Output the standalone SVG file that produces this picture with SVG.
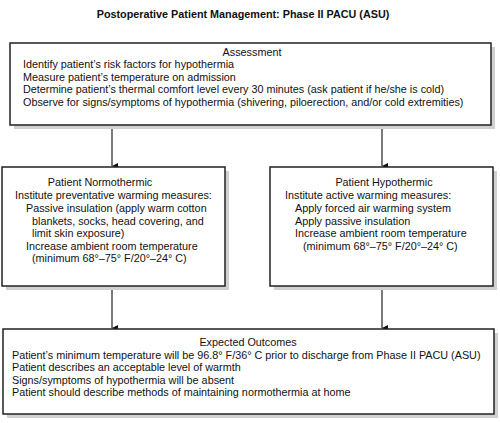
<svg xmlns="http://www.w3.org/2000/svg" width="500" height="423" viewBox="0 0 500 423">
<defs>
<style>
text{font-family:"Liberation Sans",Arial,sans-serif;font-size:10.8px;fill:#111}
.title{font-weight:bold;font-size:10.8px}
.box{fill:#fff;stroke:#222;stroke-width:1.5}
.shadow{fill:#d0d0d0}
.c{text-anchor:middle}
.conn{stroke:#222;stroke-width:1.2;fill:none}
</style>
<marker id="arr" viewBox="0 0 6 6" markerWidth="6" markerHeight="6" refX="3" refY="6" orient="auto-start-reverse" markerUnits="userSpaceOnUse">
<path d="M0,0 L6,0 L3,6 z" fill="#111"/>
</marker>
</defs>
<rect width="500" height="423" fill="#fff"/>
<text class="title c" x="243" y="18">Postoperative Patient Management: Phase II PACU (ASU)</text>
<g id="connectors">
<line class="conn" x1="112" y1="125" x2="112" y2="166" marker-end="url(#arr)"/>
<line class="conn" x1="382" y1="125" x2="382" y2="166" marker-end="url(#arr)"/>
<line class="conn" x1="112" y1="286" x2="112" y2="328" marker-end="url(#arr)"/>
<line class="conn" x1="382" y1="286" x2="382" y2="328" marker-end="url(#arr)"/>
</g>
<g id="assessment">
<rect class="shadow" x="14" y="47" width="481" height="82"/>
<rect class="box" x="10" y="43" width="481" height="82"/>
<text class="c" x="252" y="56">Assessment</text>
<text x="23" y="68">Identify patient’s risk factors for hypothermia</text>
<text x="23" y="80.5">Measure patient’s temperature on admission</text>
<text x="23" y="93">Determine patient’s thermal comfort level every 30 minutes (ask patient if he/she is cold)</text>
<text x="23" y="105.5">Observe for signs/symptoms of hypothermia (shivering, piloerection, and/or cold extremities)</text>
</g>
<g id="normothermic">
<rect class="shadow" x="6" y="171" width="223" height="119"/>
<rect class="box" x="2" y="167" width="223" height="119"/>
<text class="c" x="100" y="186">Patient Normothermic</text>
<text x="15" y="199">Institute preventative warming measures:</text>
<text x="26" y="212">Passive insulation (apply warm cotton</text>
<text x="32" y="224.5">blankets, socks, head covering, and</text>
<text x="32" y="237">limit skin exposure)</text>
<text x="26" y="249.5">Increase ambient room temperature</text>
<text x="32" y="262">(minimum 68°–75° F/20°–24° C)</text>
</g>
<g id="hypothermic">
<rect class="shadow" x="274" y="171" width="223" height="119"/>
<rect class="box" x="270" y="167" width="223" height="119"/>
<text class="c" x="384" y="186">Patient Hypothermic</text>
<text x="285" y="199">Institute active warming measures:</text>
<text x="295" y="212">Apply forced air warming system</text>
<text x="295" y="224.5">Apply passive insulation</text>
<text x="295" y="237">Increase ambient room temperature</text>
<text x="303" y="249.5">(minimum 68°–75° F/20°–24° C)</text>
</g>
<g id="outcomes">
<rect class="shadow" x="7" y="333" width="491" height="85"/>
<rect class="box" x="3" y="329" width="491" height="85"/>
<text class="c" x="248" y="346">Expected Outcomes</text>
<text x="12" y="358.5">Patient’s minimum temperature will be 96.8° F/36° C prior to discharge from Phase II PACU (ASU)</text>
<text x="12" y="371">Patient describes an acceptable level of warmth</text>
<text x="12" y="383.5">Signs/symptoms of hypothermia will be absent</text>
<text x="12" y="396">Patient should describe methods of maintaining normothermia at home</text>
</g>
</svg>
